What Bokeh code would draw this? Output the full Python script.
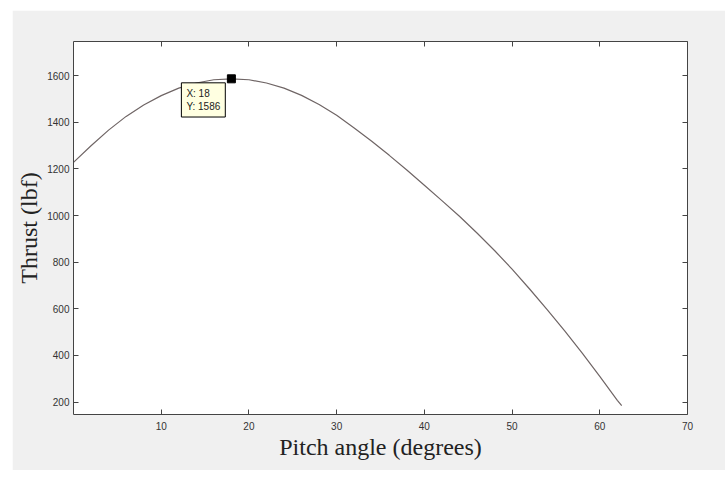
from bokeh.plotting import figure
from bokeh.models import Range1d, FixedTicker, LinearAxis, Label
from bokeh.embed import file_html
from bokeh.resources import INLINE

# Data
pitch_deg = [0, 2, 4, 6, 8, 10, 12, 14, 16, 18, 20, 22, 24, 26, 28, 30, 32, 34, 36,
             38, 40, 42, 44, 46, 48, 50, 52, 54, 56, 58, 60, 62, 62.5]
thrust_lbf = [1228, 1299, 1366, 1425, 1474, 1514, 1546, 1568, 1582, 1586, 1582, 1568,
              1546, 1515, 1476, 1430, 1375, 1318, 1258, 1195, 1130, 1064, 997, 925,
              850, 770, 685, 597, 505, 410, 310, 208, 185]
x_ticks = [10, 20, 30, 40, 50, 60, 70]
y_ticks = [200, 400, 600, 800, 1000, 1200, 1400, 1600]
tip_x = 18
tip_y = 1586

p = figure(width=713, height=460, output_backend="svg", toolbar_location=None,
           x_range=Range1d(0, 70), y_range=Range1d(147, 1746),
           x_axis_location=None, y_axis_location=None,
           min_border_left=61, min_border_right=38, min_border_top=31, min_border_bottom=56)
p.margin = (10, 0, 0, 12)
p.border_fill_color = "#f0f0f0"
p.background_fill_color = "white"
p.outline_line_color = None
p.xgrid.visible = False
p.ygrid.visible = False

def style(ax, ticks, show_labels):
    if show_labels:
        ax.ticker = FixedTicker(ticks=ticks)
    else:
        ax.ticker = FixedTicker(ticks=[], minor_ticks=ticks)
    ax.major_tick_in = 5
    ax.major_tick_out = 0
    ax.minor_tick_in = 0 if show_labels else 5
    ax.minor_tick_out = 0
    ax.axis_line_color = "#444444"
    ax.axis_line_width = 1
    ax.major_tick_line_color = "#444444"
    ax.minor_tick_line_color = "#444444"
    ax.major_label_text_font = "Liberation Sans"
    ax.major_label_text_font_size = "10px"
    ax.major_label_text_color = "#333333"
    ax.axis_label_text_font = "Liberation Serif"
    ax.axis_label_text_font_style = "normal"
    ax.axis_label_text_font_size = "24px"
    ax.axis_label_text_color = "#222222"

xb = LinearAxis(axis_label="Pitch angle (degrees)")
style(xb, x_ticks, True)
xb.major_label_standoff = 7
xb.axis_label_standoff = 1
p.add_layout(xb, "below")

yl = LinearAxis(axis_label="Thrust (lbf)")
style(yl, y_ticks, True)
yl.major_label_standoff = 4
yl.axis_label_standoff = 2
p.add_layout(yl, "left")

xt = LinearAxis()
style(xt, x_ticks, False)
p.add_layout(xt, "above")

yr = LinearAxis()
style(yr, y_ticks, False)
p.add_layout(yr, "right")

p.line(pitch_deg, thrust_lbf, line_color="#6f6565", line_width=1.2)
p.scatter([tip_x], [tip_y], marker="square", size=8, color="black")

tip = Label(x=tip_x, y=tip_y, x_offset=-50, y_offset=-4, anchor="top_left",
            text=f"X: {tip_x}\nY: {tip_y}", text_font="Liberation Sans",
            text_font_size="10px", text_color="#222222",
            background_fill_color="#ffffe1", border_line_color="black",
            border_line_width=1, padding=5)
p.add_layout(tip)

open("out.html", "w").write(file_html(p, INLINE))
